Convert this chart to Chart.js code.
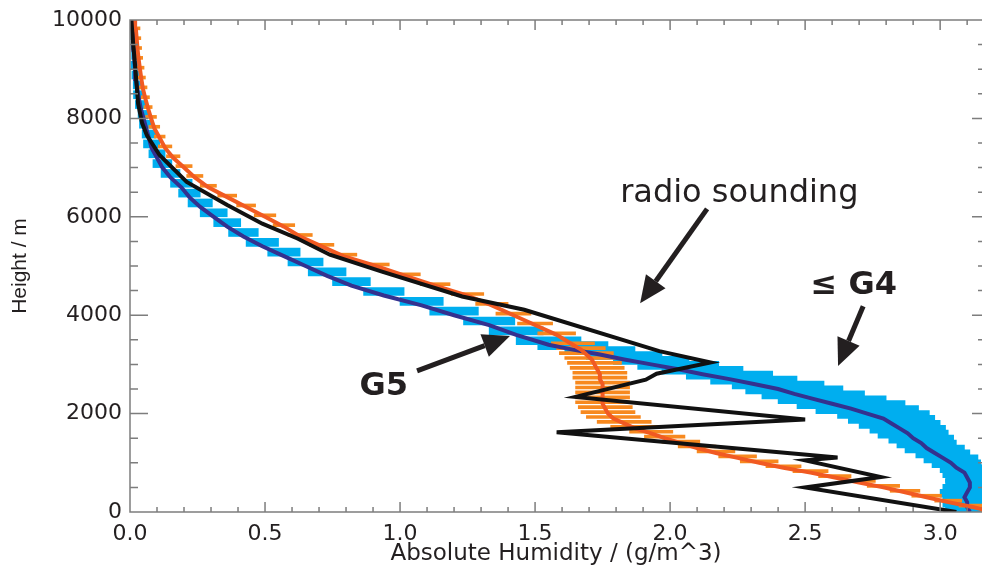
<!DOCTYPE html>
<html>
<head>
<meta charset="utf-8">
<script src="https://cdn.jsdelivr.net/npm/chart.js@4.4.1/dist/chart.umd.min.js"></script>
<style>
  html, body { margin: 0; padding: 0; background: #fff; }
</style>
</head>
<body>
<canvas id="humidityChart" width="982" height="569"></canvas>
<script>
// retrieval height levels (m)
const heights = [0,100,200,300,400,500,600,700,800,900,1000,1100,1200,1300,1400,1500,1600,1700,1800,1900,
  2000,2100,2200,2300,2400,2500,2600,2700,2800,2900,3000,3100,3200,3300,3400,
  3600,3800,4000,4200,4400,4600,4800,5000,5200,5400,5600,5800,6000,6200,6400,6600,6800,
  7000,7200,7400,7600,7800,8000,8200,8400,8600,8800,9000,9200,9400,9600,9800,10000];

// <= G4 mean and spread (g/m^3)
const g4Mean = [3.11,3.10,3.10,3.09,3.10,3.11,3.11,3.10,3.09,3.06,3.04,3.01,2.98,2.95,2.93,2.90,2.88,2.85,2.82,2.79,
  2.73,2.67,2.60,2.53,2.46,2.40,2.31,2.22,2.12,2.03,1.93,1.83,1.74,1.64,1.55,
  1.43,1.33,1.20,1.08,0.94,0.82,0.73,0.65,0.57,0.49,0.42,0.36,0.31,0.26,0.22,0.19,0.15,
  0.12,0.10,0.08,0.07,0.06,0.05,0.04,0.033,0.027,0.022,0.019,0.016,0.014,0.012,0.011,0.01];
const g4Err = [0.09,0.09,0.09,0.09,0.09,0.09,0.09,0.09,0.09,0.09,0.10,0.10,0.11,0.11,0.12,0.13,0.14,0.15,0.16,0.17,
  0.19,0.20,0.20,0.19,0.18,0.17,0.16,0.16,0.15,0.15,0.14,0.14,0.13,0.13,0.12,
  0.10,0.095,0.09,0.08,0.075,0.07,0.07,0.065,0.06,0.06,0.055,0.05,0.05,0.045,0.04,0.04,0.035,
  0.035,0.03,0.03,0.025,0.025,0.02,0.02,0.02,0.015,0.015,0.015,0.01,0.01,0.01,0.01,0.01];

// G5 mean and spread (g/m^3)
const g5Mean = [3.20,3.12,3.03,2.95,2.87,2.79,2.70,2.61,2.52,2.42,2.33,2.25,2.17,2.10,2.04,1.98,1.93,1.87,1.83,1.79,
  1.77,1.76,1.75,1.75,1.75,1.75,1.75,1.74,1.74,1.73,1.72,1.71,1.69,1.67,1.64,
  1.58,1.50,1.42,1.34,1.25,1.13,1.02,0.91,0.79,0.71,0.63,0.57,0.50,0.43,0.36,0.29,0.24,
  0.20,0.16,0.13,0.11,0.09,0.078,0.067,0.057,0.048,0.042,0.037,0.032,0.028,0.025,0.022,0.019];
const g5Err = [0.05,0.05,0.05,0.055,0.055,0.06,0.06,0.06,0.065,0.065,0.07,0.07,0.07,0.07,0.07,0.075,0.08,0.09,0.10,0.10,
  0.10,0.10,0.10,0.10,0.10,0.10,0.10,0.10,0.10,0.10,0.10,0.10,0.10,0.09,0.08,
  0.07,0.065,0.065,0.06,0.06,0.055,0.055,0.05,0.05,0.045,0.045,0.04,0.04,0.035,0.035,0.03,0.03,
  0.03,0.025,0.025,0.02,0.02,0.02,0.015,0.015,0.015,0.015,0.015,0.015,0.015,0.015,0.015,0.015];

// radio sounding
const sondeHum = [0.005,0.012,0.02,0.03,0.045,0.063,0.11,0.21,0.36,0.49,0.62,0.74,0.93,1.23,1.46,1.96,2.15,
  1.95,1.91,1.65,2.50,1.58,2.62,2.50,2.78,2.50,3.06];
const sondeHeight = [10000,9500,9000,8300,7900,7650,7250,6710,6240,5860,5560,5230,4890,4380,4110,3270,3040,
  2810,2690,2340,1880,1620,1110,1050,710,500,0];

const xTicks = [0, 0.5, 1.0, 1.5, 2.0, 2.5, 3.0];
const yTicks = [0, 2000, 4000, 6000, 8000, 10000];
const xMax = 3.155;

// annotations (data coordinates)
const notes = [
  { text: 'radio sounding', x: 1.815, y: 6300, bold: false, size: 32 },
  { text: '\u2264 G4', x: 2.52, y: 4440, bold: true, size: 32 },
  { text: 'G5', x: 0.85, y: 2370, bold: true, size: 32 }
];
const arrows = [
  { from: [2.137, 6161], to: [1.889, 4242] },
  { from: [2.715, 4182], to: [2.622, 2970] },
  { from: [1.063, 2868], to: [1.407, 3575] }
];

const xMinor = [];
for (let i = 0; i <= 31; i++) xMinor.push(i / 10);
const yMinor = [];
for (let v = 0; v <= 10000; v += 500) yMinor.push(v);

function errBars(mean, err) {
  return heights.map((h, i) => ({ y: h, x: [mean[i] - err[i], mean[i] + err[i]] }));
}
function profile(vals, hs) {
  return vals.map((v, i) => ({ x: v, y: hs[i] }));
}

const frame = {
  id: 'frame',
  afterDatasetsDraw(chart) {
    const { ctx, chartArea: a, scales: { x, y } } = chart;
    ctx.save();
    ctx.strokeStyle = '#7d7d7d';
    ctx.lineWidth = 1.5;
    ctx.beginPath();
    ctx.moveTo(a.right, a.top); ctx.lineTo(a.left, a.top);
    ctx.lineTo(a.left, a.bottom); ctx.lineTo(a.right, a.bottom);
    xMinor.forEach(v => {
      const px = x.getPixelForValue(v);
      const major = xTicks.some(t => Math.abs(t - v) < 1e-6);
      const len = major ? 10 : 5;
      ctx.moveTo(px, a.bottom); ctx.lineTo(px, a.bottom - len);
      ctx.moveTo(px, a.top); ctx.lineTo(px, a.top + len);
    });
    yMinor.forEach(v => {
      const py = y.getPixelForValue(v);
      const major = v % 2000 === 0;
      ctx.moveTo(a.left, py); ctx.lineTo(a.left + (major ? 18 : 8), py);
      ctx.moveTo(a.right, py); ctx.lineTo(a.right - (major ? 10 : 4), py);
    });
    ctx.stroke();

    // arrows
    ctx.strokeStyle = '#231f20';
    ctx.fillStyle = '#231f20';
    arrows.forEach(ar => {
      const x0 = x.getPixelForValue(ar.from[0]), y0 = y.getPixelForValue(ar.from[1]);
      const x1 = x.getPixelForValue(ar.to[0]), y1 = y.getPixelForValue(ar.to[1]);
      const ang = Math.atan2(y1 - y0, x1 - x0);
      const hl = 27, hw = 12;
      const bx = x1 - hl * Math.cos(ang), by = y1 - hl * Math.sin(ang);
      ctx.lineWidth = 5;
      ctx.beginPath();
      ctx.moveTo(x0, y0); ctx.lineTo(bx, by);
      ctx.stroke();
      ctx.beginPath();
      ctx.moveTo(x1, y1);
      ctx.lineTo(bx + hw * Math.sin(ang), by - hw * Math.cos(ang));
      ctx.lineTo(bx - hw * Math.sin(ang), by + hw * Math.cos(ang));
      ctx.closePath();
      ctx.fill();
    });

    // labels
    ctx.textAlign = 'left';
    ctx.textBaseline = 'alphabetic';
    notes.forEach(n => {
      ctx.font = (n.bold ? 'bold ' : '') + n.size + 'px "DejaVu Sans"';
      ctx.fillText(n.text, x.getPixelForValue(n.x), y.getPixelForValue(n.y));
    });
    ctx.restore();
  }
};

const tickFont = { family: 'DejaVu Sans', size: 22 };

new Chart(document.getElementById('humidityChart'), {
  type: 'line',
  data: {
    datasets: [
      {
        label: 'radio sounding',
        data: profile(sondeHum, sondeHeight),
        borderColor: '#111111',
        borderWidth: 4,
        pointRadius: 0,
        tension: 0,
        order: 0
      },
      {
        label: 'G5',
        data: profile(g5Mean, heights),
        borderColor: '#f15a22',
        borderWidth: 4,
        pointRadius: 0,
        tension: 0,
        order: 1
      },
      {
        label: '<= G4',
        data: profile(g4Mean, heights),
        borderColor: '#34318f',
        borderWidth: 4,
        pointRadius: 0,
        tension: 0,
        order: 2
      },
      {
        type: 'bar',
        label: 'G5 spread',
        indexAxis: 'y',
        data: errBars(g5Mean, g5Err),
        backgroundColor: '#f7891f',
        borderWidth: 0,
        barThickness: 3,
        stack: 'err',
        order: 3
      },
      {
        type: 'bar',
        label: 'G4 spread',
        indexAxis: 'y',
        data: errBars(g4Mean, g4Err),
        backgroundColor: '#00aeef',
        borderWidth: 0,
        barThickness: 8,
        stack: 'err',
        order: 4
      }
    ]
  },
  options: {
    responsive: false,
    animation: false,
    layout: { padding: { top: 20, right: 0, left: 0, bottom: 0 } },
    plugins: { legend: { display: false }, tooltip: { enabled: false } },
    scales: {
      x: {
        type: 'linear',
        min: 0,
        max: xMax,
        stacked: false,
        offset: false,
        grid: { display: false },
        border: { display: false },
        afterBuildTicks: s => { s.ticks = xTicks.map(v => ({ value: v })); },
        afterFit: s => { s.height = 57; },
        ticks: {
          font: tickFont,
          color: '#231f20',
          padding: 1,
          maxRotation: 0,
          autoSkip: false,
          callback: v => Number(v).toFixed(1)
        },
        title: {
          display: true,
          text: 'Absolute Humidity / (g/m^3)',
          font: { family: 'DejaVu Sans', size: 23 },
          color: '#231f20',
          padding: { top: 0, bottom: 1 }
        }
      },
      y: {
        type: 'linear',
        min: 0,
        max: 10000,
        stacked: false,
        offset: false,
        grid: { display: false },
        border: { display: false },
        afterBuildTicks: s => { s.ticks = yTicks.map(v => ({ value: v })); },
        afterFit: s => { s.width = 130; },
        ticks: {
          font: tickFont,
          color: '#231f20',
          padding: 0,
          autoSkip: false,
          callback: v => String(v)
        },
        title: {
          display: true,
          text: 'Height / m',
          font: { family: 'Liberation Sans', size: 21 },
          color: '#231f20',
          padding: { top: 8, bottom: 0 }
        }
      }
    }
  },
  plugins: [frame]
});
</script>
</body>
</html>
